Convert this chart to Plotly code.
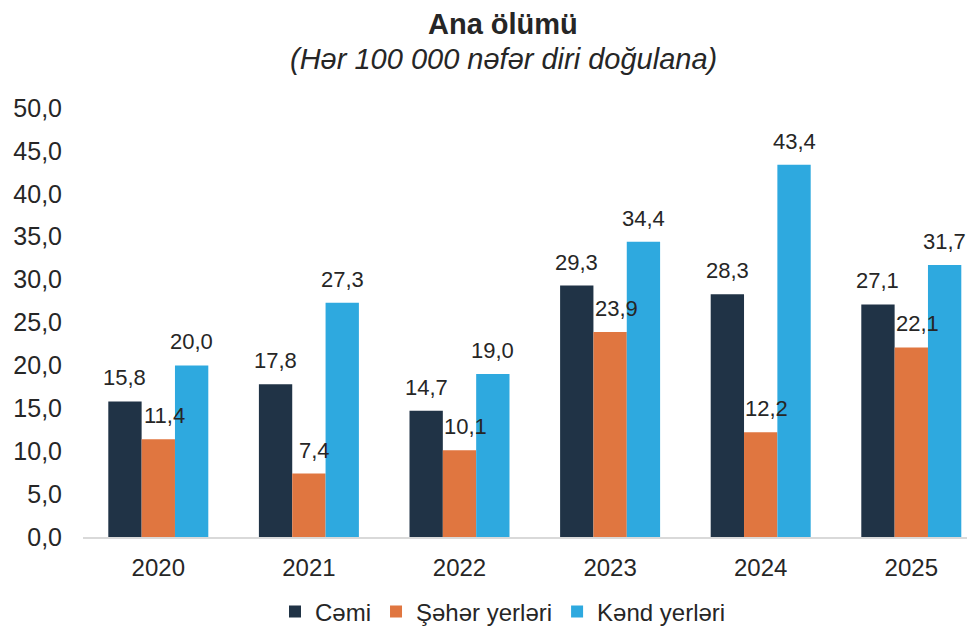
import plotly.graph_objects as go

years = ["2020", "2021", "2022", "2023", "2024", "2025"]
cemi = [15.8, 17.8, 14.7, 29.3, 28.3, 27.1]
seher = [11.4, 7.4, 10.1, 23.9, 12.2, 22.1]
kend = [20.0, 27.3, 19.0, 34.4, 43.4, 31.7]
series_names = ["Cəmi", "Şəhər yerləri", "Kənd yerləri"]
colors = ["#203346", "#E07640", "#2EA9DF"]
y_ticks = [0, 5, 10, 15, 20, 25, 30, 35, 40, 45, 50]

FONT = "Liberation Sans, Arial, sans-serif"
TXT = "#262626"

# page body adds an 8px offset; the figure is sized to fill the rest
OFF = 8
W, H = 975 - OFF, 632 - OFF
ML, MR, MT, MB = 83 - OFF, 0, 108 - OFF, 95
plot_w = W - ML - MR
plot_h = H - MT - MB
px_per_cat = 150.6
bargap = 0.336
bar_px = px_per_cat * (1 - bargap) / 3
label_dx = [0, 6, 0]

fig = go.Figure()
all_series = [cemi, seher, kend]
for name, vals, col in zip(series_names, all_series, colors):
    fig.add_trace(go.Bar(x=years, y=vals, name=name, marker_color=col,
                         marker_line_width=0))

annotations = []
for i, vals in enumerate(all_series):
    for j, v in enumerate(vals):
        annotations.append(dict(
            x=j, y=v, xref="x", yref="y",
            text=f"{v:.1f}".replace(".", ","),
            showarrow=False, xanchor="center", yanchor="bottom",
            xshift=(i - 1) * bar_px + label_dx[i], yshift=9,
            font=dict(family=FONT, size=22, color=TXT)))

cx = (503 - OFF - ML) / plot_w
annotations.append(dict(x=cx, y=(H - MB - (24 - OFF)) / plot_h,
                        xref="paper", yref="paper", showarrow=False,
                        text="<b>Ana ölümü</b>", xanchor="center", yanchor="middle",
                        font=dict(family=FONT, size=29, color=TXT)))
annotations.append(dict(x=cx, y=(H - MB - (59 - OFF)) / plot_h,
                        xref="paper", yref="paper", showarrow=False,
                        text="<i>(Hər 100 000 nəfər diri doğulana)</i>",
                        xanchor="center", yanchor="middle",
                        font=dict(family=FONT, size=29, color=TXT)))

fig.update_layout(
    width=W, height=H,
    margin=dict(l=ML, r=MR, t=MT, b=MB),
    paper_bgcolor="white", plot_bgcolor="white",
    barmode="group", bargap=bargap, bargroupgap=0,
    separators=",.",
    showlegend=True,
    legend=dict(orientation="h", xref="paper", yref="container",
                x=(503 - OFF - ML) / plot_w, xanchor="center",
                y=1 - (612 - OFF) / H, yanchor="middle",
                font=dict(family=FONT, size=24, color=TXT), itemclick=False),
    annotations=annotations,
    font=dict(family=FONT, color=TXT),
)
fig.update_xaxes(type="category", range=[-0.5, -0.5 + plot_w / px_per_cat],
                 showline=True, linecolor="#D9D9D9", linewidth=2,
                 showgrid=False, ticks="", ticklabelstandoff=8,
                 tickfont=dict(family=FONT, size=24, color=TXT))
fig.update_yaxes(range=[0, 50], tickvals=y_ticks, tickformat=".1f",
                 showgrid=False, zeroline=False, showline=False, ticks="",
                 ticklabelstandoff=20,
                 tickfont=dict(family=FONT, size=25, color=TXT))

fig.write_html("out.html")
